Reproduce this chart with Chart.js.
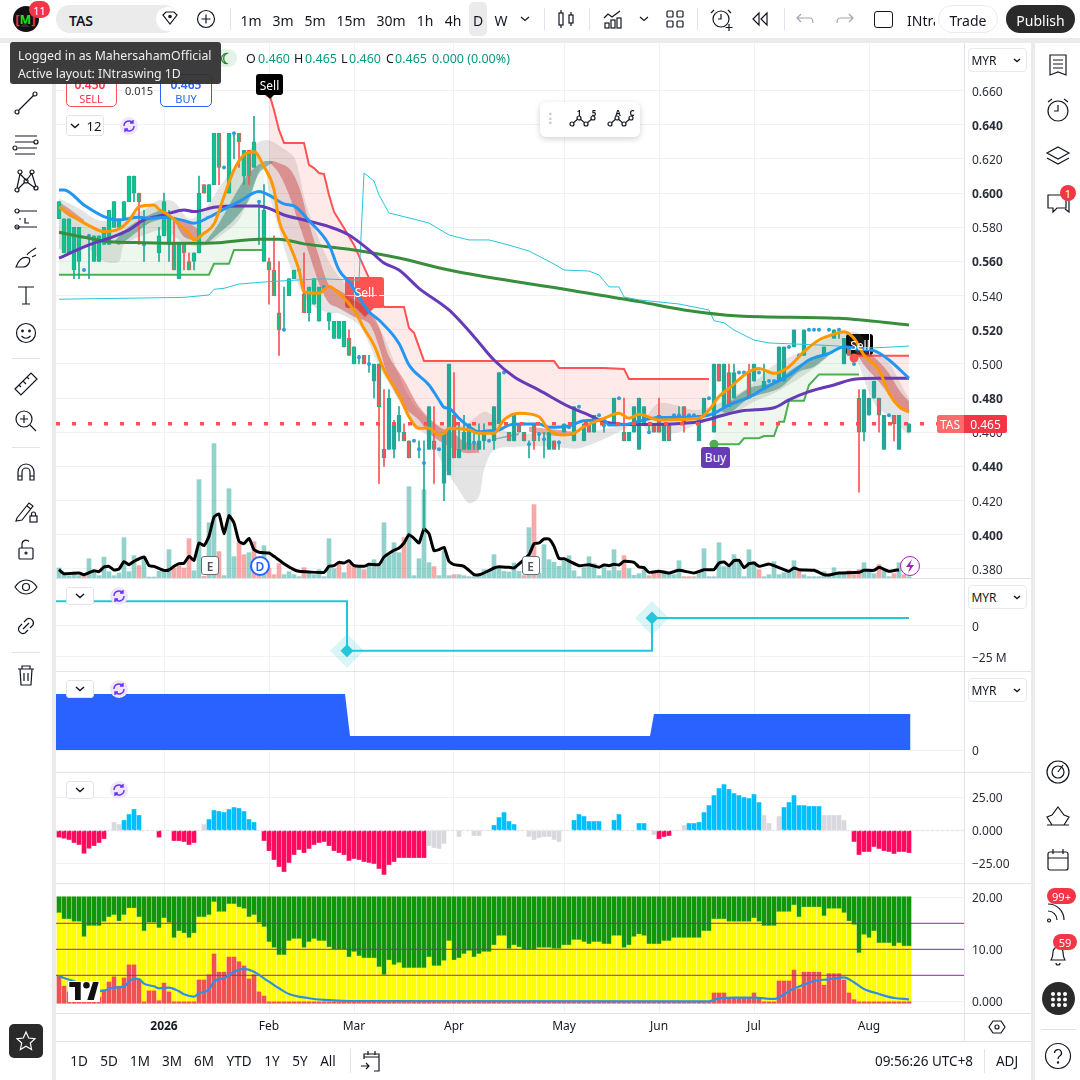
<!DOCTYPE html>
<html>
<head>
<meta charset="utf-8">
<title>TAS</title>
<script src="https://cdn.jsdelivr.net/npm/chart.js@4"></script>
<style>
html,body{margin:0;padding:0;background:#fff;overflow:hidden;}
#app{position:relative;width:1080px;height:1080px;background:#fff;font-family:"Noto Sans",sans-serif;color:#131722;overflow:hidden;}
canvas{position:absolute;left:56px;z-index:2;}
.t{position:absolute;white-space:nowrap;z-index:5;transform:translate(-50%,-50%);font-size:14px;}
.box{position:absolute;box-sizing:border-box;z-index:5;}
.under{z-index:1;}
svg.i{position:absolute;z-index:5;overflow:visible;fill:none;stroke:#131722;stroke-width:1.2;}
</style>
</head>
<body>
<div id="app">
<canvas id="pMain" width="975" height="535" style="top:43px"></canvas>
<canvas id="pStep" width="975" height="92" style="top:579px"></canvas>
<canvas id="pArea" width="975" height="100" style="top:672px"></canvas>
<canvas id="pOsc" width="975" height="110" style="top:773px"></canvas>
<canvas id="pStack" width="975" height="157" style="top:884px"></canvas>
</div>
<script>
// bar numbers of the month lines and their labels
const monthBars = [21, 42, 59, 79, 101, 120, 139, 162];
const monthNames = ['2026', 'Feb', 'Mar', 'Apr', 'May', 'Jun', 'Jul', 'Aug'];
const priceTicks = [0.66, 0.64, 0.62, 0.6, 0.58, 0.56, 0.54, 0.52, 0.5, 0.48, 0.46, 0.44, 0.42, 0.4, 0.38];
const priceBold = [0.64, 0.6, 0.56, 0.52, 0.48, 0.44, 0.4];

const openP = [
.585,.565,.565,.555,.56,.555,.575,.56,.56,.57,
.57,.58,.58,.585,.595,.6,.6,.57,null,null,
.565,.575,.57,.57,.55,.57,.56,.56,.565,.605,
.595,.605,.635,.615,.6,.635,.635,.61,.625,.615,
.595,.56,.56,.555,.53,.52,.54,.55,.555,.541,
.53,.535,.525,.545,.525,.515,.515,.51,.515,.5,
.504,.505,.5,.49,.5,.45,.45,.45,.46,.46,
.455,.455,.45,.442,.45,.455,.45,.43,.435,.47,
.445,.45,.45,.454,.45,.455,.455,.455,.465,.495,
.46,.455,.465,.46,.453,.465,.459,.456,.45,.455,
.454,.46,.463,.455,.475,.455,.465,.46,.47,.464,
null,.465,.48,.46,.455,.46,.45,.465,.46,.465,
.47,.455,.465,.47,.47,.475,.47,.47,.455,.47,
.48,.46,.5,.475,.495,.48,.495,.495,.495,.49,
.495,.485,.49,.49,.49,.49,.51,.51,.505,.505,
.52,.52,.52,.505,.52,.515,.52,.5,.51,.5,
.48,.46,.47,.48,.48,.45,.47,.47,.45,null,.46];
const closeP = [
.595,.585,.585,.58,.58,.555,.575,.575,.575,.58,
.59,.595,.585,.595,.61,.61,.595,.57,null,null,
.575,.595,.585,.555,.57,.565,.555,.565,.6,.6,
.605,.635,.615,.615,.635,.635,.63,.625,.61,.63,
.595,.59,.555,.54,.52,.52,.55,.555,.555,.53,
.545,.55,.545,.545,.53,.525,.525,.525,.505,.51,
.504,.5,.5,.5,.475,.445,.48,.465,.47,.455,
.445,.455,.45,.442,.475,.45,.45,.46,.5,.445,
.45,.46,.465,.454,.455,.46,.455,.475,.495,.495,
.455,.47,.46,.455,.453,.455,.459,.456,.46,.45,
.454,.465,.463,.475,.475,.465,.46,.47,.47,.464,
null,.48,.48,.455,.46,.475,.48,.475,.46,.46,
.46,.465,.455,.47,.47,.465,.47,.47,.47,.48,
.48,.5,.49,.5,.475,.495,.495,.495,.48,.5,
.495,.49,.49,.49,.51,.51,.51,.52,.505,.52,
.52,.52,.52,.51,.52,.52,.52,.515,.505,.5,
.46,.485,.48,.49,.47,.47,.47,.465,.47,null,.465];
const highP = [
.595,.585,.585,.58,.58,.555,.575,.575,.575,.58,
.59,.595,.585,.595,.61,.61,.6,.59,null,null,
.58,.6,.59,.585,.57,.57,.565,.565,.61,.605,
.605,.635,.635,.615,.635,.635,.635,.625,.625,.645,
.595,.605,.562,.575,.56,.545,.55,.555,.555,.565,
.545,.55,.545,.545,.53,.525,.525,.525,.52,.51,
.505,.505,.505,.5,.5,.485,.485,.467,.475,.465,
.455,.455,.455,.455,.475,.475,.45,.46,.5,.495,
.465,.47,.465,.46,.465,.465,.455,.475,.495,.495,
.46,.47,.465,.46,.455,.465,.46,.46,.46,.455,
.455,.465,.463,.475,.475,.465,.465,.47,.47,.465,
null,.48,.48,.48,.46,.475,.48,.475,.465,.465,
.48,.465,.465,.47,.475,.475,.47,.47,.47,.48,
.48,.5,.5,.5,.5,.5,.495,.495,.5,.5,
.495,.5,.49,.49,.51,.51,.51,.52,.505,.52,
.52,.52,.52,.51,.52,.52,.52,.515,.51,.5,
.485,.485,.48,.49,.48,.47,.47,.47,.47,null,.465];
const lowP = [
.585,.565,.565,.55,.55,.555,.55,.56,.56,.57,
.57,.58,.58,.585,.595,.595,.57,.56,null,null,
.56,.575,.56,.555,.55,.555,.555,.555,.565,.6,
.595,.605,.605,.615,.6,.62,.615,.605,.605,.615,
.57,.56,.535,.54,.505,.52,.54,.55,.555,.53,
.525,.535,.525,.545,.52,.515,.515,.51,.505,.5,
.5,.5,.495,.48,.43,.44,.45,.445,.455,.455,
.445,.455,.445,.403,.45,.43,.45,.42,.435,.445,
.445,.45,.45,.45,.45,.45,.455,.45,.465,.495,
.455,.455,.46,.455,.445,.45,.455,.445,.45,.45,
.45,.46,.463,.455,.475,.455,.46,.46,.47,.46,
null,.465,.48,.455,.455,.46,.45,.465,.46,.46,
.46,.455,.455,.47,.47,.46,.47,.47,.455,.47,
.48,.46,.49,.475,.475,.48,.495,.495,.48,.49,
.495,.485,.49,.49,.49,.49,.51,.51,.505,.505,
.52,.52,.52,.505,.52,.515,.515,.5,.505,.5,
.425,.455,.47,.48,.46,.45,.47,.455,.45,null,.46];
const lastPrice = 0.465;

const volumes = [
30,10,7,10,7,5,58,20,7,63,
19,7,15,121,19,67,37,65,3,3,
20,20,85,30,40,30,118,22,295,5,
166,403,79,7,268,64,106,70,76,109,
40,97,30,10,43,10,19,10,4,31,
13,10,25,4,118,28,46,16,43,40,
37,25,40,55,37,166,70,106,76,121,
274,7,58,265,46,34,7,82,7,10,
10,7,4,4,7,25,25,70,30,20,
18,45,20,7,151,220,15,100,55,47,
35,53,67,22,4,31,64,43,7,31,
22,85,22,67,28,8,13,25,7,15,
15,22,13,10,52,4,4,4,17,88,
4,4,106,34,37,70,53,4,85,49,
25,4,10,49,10,16,16,52,22,10,
4,4,4,19,7,31,10,13,22,10,
25,46,22,13,40,25,4,13,46,10,4];
const volumeRed = [5,16,23,24,25,26,29,32,36,37,39,40,42,43,44,49,56,58,59,61,69,75,79,93,95,113,118,119,120,125,126,127,140,148,158,159,160,164,167,169];
const volMaBars = [0,1,4,5,7,8,9,10,11,12,13,14,15,17,18,19,21,22,23,24,25,26,27,28,29,30,31,32,33,34,35,36,37,38,39,40,42,43,45,47,48,50,53,54,55,56,57,58,59,61,62,64,65,67,68,69,70,71,72,73,74,75,76,77,78,79,81,83,84,85,87,88,90,91,94,95,96,97,98,99,100,101,104,106,108,109,110,111,112,113,115,116,117,118,120,122,124,127,129,131,132,133,134,135,136,137,138,139,140,142,143,145,146,147,148,151,153,154,156,160,161,163,164,166,168];
const volMaVals = [25,13,15,10,22,19,33,35,24,27,49,40,50,63,37,35,23,24,35,43,44,65,53,105,97,125,183,192,133,187,165,110,103,119,85,77,75,65,43,25,20,18,17,35,37,47,45,52,37,35,41,40,63,83,90,105,130,119,105,147,133,82,85,92,50,40,35,10,10,15,30,34,32,30,70,103,105,117,117,95,58,58,37,40,32,39,37,41,39,50,47,33,31,17,20,15,23,15,25,25,45,48,37,52,53,31,43,45,35,42,37,25,20,30,25,23,10,9,15,17,23,23,32,20,25];

const orangeBars = [0,2,6,9,12,14,16,19,20,22,24,26,27,29,31,33,35,37,39,41,43,44,46,48,49,52,54,56,59,61,63,65,68,70,72,74,76,77,78,82,84,87,89,92,96,98,101,103,105,109,112,114,116,120,128,130,132,134,138,140,143,146,149,152,155,157,159,161,164,166,168,170];
const orangeVals = [.592,.588,.581,.5775,.579,.584,.592,.593,.5905,.587,.582,.5765,.5726,.5765,.582,.598,.6136,.6224,.6243,.6155,.602,.584,.5706,.555,.5423,.5414,.5453,.5414,.5316,.5208,.511,.4965,.4818,.4691,.4623,.4623,.4584,.4594,.4623,.4613,.4594,.4594,.4672,.4711,.4691,.4613,.4584,.4594,.4633,.4682,.4711,.4682,.4706,.4672,.4682,.473,.4809,.4857,.4955,.4974,.4945,.4984,.5072,.514,.5175,.5189,.515,.5052,.4965,.4828,.475,.472];
const blueBars = [0,1,5,9,12,16,18,21,25,27,30,33,36,40,42,45,47,50,54,56,58,62,64,68,70,74,76,77,78,80,82,84,86,88,90,93,96,98,102,105,109,110,114,116,120,128,131,134,138,141,143,146,150,154,157,160,163,166,170];
const blueVals = [.6019,.6019,.5931,.5863,.5843,.5859,.5853,.5859,.5839,.5824,.5859,.5906,.595,.6009,.5989,.5937,.5925,.5839,.5697,.555,.548,.5306,.5257,.512,.4994,.4877,.4789,.4746,.474,.4682,.4633,.4603,.4609,.4613,.4642,.4648,.4648,.4629,.4637,.4668,.4672,.4642,.4648,.4665,.4686,.4691,.4711,.476,.4805,.4857,.4887,.4935,.5023,.5062,.5101,.5086,.5078,.5023,.4916];
const purpleBars = [0,6,10,14,17,21,25,27,31,36,40,42,45,49,54,58,62,65,68,72,78,83,87,91,96,102,106,109,115,128,133,137,143,146,150,155,159,164,170];
const purpleVals = [.5619,.5697,.5736,.5785,.5843,.5872,.5902,.5892,.5917,.5925,.5925,.5911,.5872,.5843,.5804,.5755,.5667,.5591,.555,.5443,.5316,.516,.5023,.4925,.4847,.475,.4701,.4662,.4645,.4662,.4701,.4727,.4744,.479,.4838,.4877,.491,.4916,.4916];
const slowBars = [0,5,10,17,26,32,40,44,49,58,68,78,102,116,125,136,156,170];
const slowVals = [.5771,.5742,.5716,.571,.5706,.571,.573,.573,.5703,.5671,.562,.555,.5433,.5365,.5316,.5281,.5267,.5228];
const cyanBars = [0,12,25,30,31,33,36,42,48,53,58,60,61,62,63,64,66,70,74,78,82,86,90,94,99,101,106,108,110,112,113,116,124,130,131,133,135,137,139,142,152,163,167,170];
const cyanVals = [.5379,.5384,.539,.5404,.5437,.5443,.5468,.5482,.5492,.5498,.5492,.5492,.6118,.6095,.6071,.5989,.5884,.5855,.5825,.5755,.5726,.5726,.5696,.5661,.5585,.555,.5544,.5521,.5451,.5451,.5392,.5375,.5351,.5316,.5253,.5241,.5199,.5169,.514,.5123,.5111,.5094,.51,.5105];

const stopBars = [42,43,44,45,49,50,51,52,53,54,55,57,59,62,65,69,70,71,73,99,100,109,113,114,130];
const stopVals = [.6587,.6487,.637,.6294,.6294,.6165,.6147,.6118,.6112,.5989,.589,.5796,.5697,.5503,.5334,.5334,.5211,.5182,.5018,.5018,.4977,.4977,.4971,.4912,.4912];
const stop2Bars = [159,170];
const stop2Vals = [.5048,.5048];
const trailBars = [0,30,31,34,35,41];
const trailVals = [.5523,.5523,.5586,.5586,.5667,.5667];
const trail2Bars = [131,136,137,140,141,143,144,145,146,149,150,152,160];
const trail2Vals = [.453,.453,.4565,.4565,.4578,.4578,.4662,.4662,.4785,.4785,.4877,.4939,.4939];

const greyUpBars = [0,4,8,12,17,20,23,26,29,32,36,40,42,45,47,48,49,51,54,56,59,62,65,69,72,76,81,85,87,89,92,103,112,116,120,128,136,140,143,150,155,158,160,162,166,169,170];
const greyUpVals = [.597,.591,.584,.585,.59,.596,.595,.585,.59,.603,.619,.63,.631,.626,.621,.612,.598,.58,.56,.551,.5413,.5296,.516,.4867,.473,.4642,.4642,.472,.4691,.4613,.4594,.4594,.4633,.4642,.477,.473,.4828,.4916,.4994,.5092,.517,.519,.518,.5101,.5004,.4848,.4799];
const greyDnBars = [0,2,5,9,12,13,18,21,25,28,30,32,36,39,41,42,44,46,48,50,54,56,60,62,64,66,69,71,74,77,80,82,84,85,87,92,99,104,110,116,118,123,128,135,139,143,150,155,157,158,160,163,166,170];
const greyDnVals = [.5677,.5648,.5687,.56,.56,.5697,.5765,.5785,.5706,.5687,.5706,.5745,.5843,.6058,.6175,.6,.5785,.559,.5453,.5355,.5297,.5296,.5228,.512,.4984,.4886,.473,.4633,.4574,.4399,.4262,.4184,.4223,.4379,.4496,.4516,.4516,.4506,.4574,.4652,.4604,.4594,.4652,.4711,.4779,.4828,.4955,.5072,.514,.519,.4994,.477,.4691,.4584];

const red0UpBars = [0,2,5];
const red0UpVals = [.595,.591,.5843];
const red0DnBars = [0,2,5];
const red0DnVals = [.591,.5863,.5824];
const red1UpBars = [23,26,28];
const red1UpVals = [.5863,.5824,.5785];
const red1DnBars = [23,25,28];
const red1DnVals = [.5843,.5745,.5716];
const red2UpBars = [42,43,46,48,50,52,54,56,59,62,64,66,69,72,76,79,81,84];
const red2UpVals = [.6185,.6185,.6146,.6038,.5824,.5628,.5463,.5433,.5374,.5316,.5218,.5043,.4906,.475,.4633,.4594,.4545,.4535];
const red2DnBars = [42,44,46,48,50,52,54,56,59,62,64,66,69,72,74,78,81,84];
const red2DnVals = [.6185,.6116,.599,.582,.5648,.5472,.5355,.5326,.5277,.5238,.5101,.4906,.475,.4672,.4594,.4516,.448,.448];
const red3UpBars = [94,99,103];
const red3UpVals = [.4633,.4617,.4603];
const red3DnBars = [94,99,103];
const red3DnVals = [.4603,.458,.458];
const red4UpBars = [158,161,164,166,168,170];
const red4UpVals = [.514,.5086,.5013,.4945,.4848,.478];
const red4DnBars = [158,161,164,166,168,170];
const red4DnVals = [.514,.4994,.4896,.4818,.474,.471];

const teal0UpBars = [11,14,18,21,22];
const teal0UpVals = [.5716,.5804,.5872,.5902,.5872];
const teal0DnBars = [11,12,14,18,21,22];
const teal0DnVals = [.5716,.5697,.5736,.5824,.5853,.5872];
const teal1UpBars = [29,32,35,38,41,43];
const teal1UpVals = [.5706,.5824,.598,.6116,.6185,.6185];
const teal1DnBars = [29,30,32,35,38,40,43];
const teal1DnVals = [.5706,.5716,.5765,.5843,.596,.6116,.6185];
const teal2UpBars = [87,92];
const teal2UpVals = [.4564,.4598];
const teal2DnBars = [87,92];
const teal2DnVals = [.4555,.4584];
const teal3UpBars = [132,138,143,148,154];
const teal3UpVals = [.4731,.4857,.4896,.4994,.5062];
const teal3DnBars = [132,134,138,144,148,151,154];
const teal3DnVals = [.4731,.4711,.4799,.4857,.4955,.4984,.5052];

const sellDotBars = [42,159];
const sellDotVals = [.6587,.5035];
const buyDotBars = [131];
const buyDotVals = [.453];

// second pane, cash line
const stepBars = [-0.6,57.6,57.6,118.6,118.6,170];
const stepVals = [20,20,-20,-20,6.5,6.5];
const stepDotBars = [57.6,118.6];
const stepDotVals = [-20,6.5];
// third pane, blue area
const areaBars = [-0.6,57.2,58.2,118.2,119,170.3];
const areaVals = [56,56,14,14,36,36];

const oscVals = [
-5,-5.8,-6.8,-9.1,-10.6,-17.2,-13.4,-11.4,-9.1,-6.1,
0,6.1,4.5,7.6,12.1,15.9,11.4,0,0,0,
-5,0,0,-7.6,-7.6,-8.3,-10.6,-9.1,0,4.5,
8.3,15.2,14.4,13.6,15.9,17.4,16.7,14.4,8.3,6.1,
0,-7.6,-15.2,-22,-27.3,-31.1,-24.2,-18.2,-14.4,-16.7,
-13.6,-10.6,-9.1,-8.3,-11.4,-15.2,-16.7,-18.2,-22.7,-21.2,
-22,-23.5,-24.2,-25,-28.8,-33.3,-25.8,-23.5,-20.5,-20.5,
-20.5,-20.5,-20.5,-20.5,-11.4,-12.9,-13.6,-9.8,0,0,
-4.5,0,0,-3.8,-3.8,0,0,3.8,9.8,13.6,
6.8,4.5,0,0,-4.5,-6.8,-5.3,-4.5,-4.5,-6.8,
-8.3,0,0,7.6,12.1,10.6,6.8,6.8,6.8,0,
0,7.6,12.1,0,0,0,5.3,5.3,0,-3,
-6.1,-4.5,-3.8,0,0,3.8,5.3,5.3,6.1,13.6,
18.9,26.5,31.8,34.8,31.1,28,26.5,25,24.2,27.3,
21.2,11.4,5.3,0,10.6,17.4,21.2,26.5,18.9,18.9,
18.2,18.2,18.2,11.4,11.4,11.4,11.4,7.6,0,-8.3,
-18.2,-15.9,-15.9,-12.1,-13.6,-15.2,-15.9,-17.4,-15.9,-15.9,-16.7];
const oscGrey = [11,12,29,74,75,76,77,80,83,84,94,95,96,97,98,99,100,119,125,141,142,144,153,154,155,156,157];

const topValue = 20.1;
const baseValue = -0.38;
const yellowTop = [
17,15.8,15.8,15.3,15.3,12.4,14.5,14.5,14.5,15.3,
16.2,16.6,15.4,16.6,17.9,17.9,16.2,13.5,15.1,15.1,
14.1,16,15.1,12.2,13.5,13.1,12.2,13.1,16.2,16.2,
16.6,19.1,17.2,17.2,18.7,18.7,18.1,17.8,16.2,16.6,
15.1,14.3,11.4,10.3,8.9,8.9,11.6,12,12,10.3,
11.4,12,11.6,11.6,10.4,10,10,10,8.5,9.5,
8.7,8.3,8.3,8.3,6.6,5.1,7.9,7,7.4,6.4,
6.4,6.4,6.4,6.4,8.5,6.8,6.8,7.8,11.6,7.9,
8.3,9.1,9.7,8.5,9.1,9.5,9.5,10.8,12.6,12.6,
10.1,10.8,10.4,9.9,9.9,9.9,10.3,10.3,10.3,10.1,
10.1,10.8,10.8,11.8,11.8,11.4,11,11.4,11.4,11,
11,12.6,12.6,10.3,10.8,12.4,12.9,12.6,11,11,
11,11.6,11.6,12.2,12.2,12.2,12.2,12.2,12.2,13.5,
13.5,15.8,15.8,15.8,15.3,15.3,15.3,15.3,15.3,16,
15.3,14.5,14.5,14.5,17.2,17.2,17.2,18.5,16.2,18.1,
18.1,18.1,18.1,16.4,17.8,17.8,17.8,17,15.4,14.7,
9.3,12.8,12.2,13.5,11.2,11.2,11.2,10.6,11.2,10.6,10.6];
const redTop = [
4.9,2.9,1.8,.1,.1,.1,.1,.1,.8,2.2,
3.7,4.7,2.9,4.5,7,7,4.1,-.1,2,2,
.1,3.5,1.8,-.1,-.1,-.1,-.1,-.1,4.1,4.1,
5.1,9.1,5.6,5.6,8.5,8.5,7.6,6.8,4.3,5.1,
1.8,1,-.1,-.1,-.1,-.1,-.1,-.1,-.1,-.1,
-.1,-.1,-.1,-.1,-.1,-.1,-.1,-.1,-.1,-.1,
-.1,-.1,-.1,-.1,-.1,-.1,-.1,-.1,-.1,-.1,
-.1,-.1,-.1,-.1,-.1,-.1,-.1,-.1,-.1,-.1,
-.1,-.1,-.1,-.1,-.1,-.1,-.1,-.1,-.1,-.1,
-.1,-.1,-.1,-.1,-.1,-.1,-.1,-.1,-.1,-.1,
-.1,-.1,-.1,-.1,-.1,-.1,-.1,-.1,-.1,-.1,
-.1,-.1,-.1,-.1,-.1,-.1,-.1,-.1,-.1,-.1,
-.1,-.1,-.1,-.1,-.1,-.1,-.1,-.1,-.1,-.1,
-.1,1.6,1.6,1.6,.6,.6,.6,.6,.6,1.6,
.6,-.1,-.1,-.1,3.9,3.9,3.9,6,2.4,5.6,
5.6,5.6,5.6,3.1,5.3,5.3,5.3,4.1,1.6,.3,
-.1,-.1,-.1,-.1,-.1,-.1,-.1,-.1,-.1,-.1,-.1];
const mfiBars = [0,1,3,5,7,8,9,11,13,14,15,16,17,19,20,22,24,25,27,28,30,31,33,35,37,39,41,44,46,50,53,58,130,132,135,139,143,145,147,148,151,154,157,159,161,164,167,170];
const mfiVals = [4.87,4.49,3.85,3.14,2.31,1.99,2.05,2.63,2.82,3.78,4.36,4.29,3.4,2.88,2.5,2.63,1.92,1.35,.9,1.54,2.24,3.85,4.42,5.7,6.22,5.7,4.42,2.5,1.41,.58,.26,.06,0,.58,.7,.7,.45,1.35,2.5,2.82,3.91,4.23,4.62,3.65,2.37,1.41,.64,.38];
const levelVals = [5,10,15];

const xMin = -0.6, xMax = 181;
const bars = openP.map((_, i) => i);
const FONT = '"Noto Sans", sans-serif';
const GRID = '#f0f2f5';

Chart.defaults.font.family = FONT;

function pts(xs, ys) { return xs.map((x, i) => ({x: x, y: ys[i]})); }

// later pushed datasets are drawn on top
function push(list, ds) {
  ds.order = 500 - list.length;
  list.push(ds);
  return list.length - 1;
}
function line(list, xs, ys, color, width, extra) {
  return push(list, Object.assign({type: 'line', data: pts(xs, ys), borderColor: color, borderWidth: width,
    pointRadius: 0, tension: 0, fill: false}, extra || {}));
}
function ribbon(list, upX, upY, dnX, dnY, color) {
  const low = line(list, dnX, dnY, 'rgba(0,0,0,0)', 0, {tension: 0.3});
  line(list, upX, upY, 'rgba(0,0,0,0)', 0, {tension: 0.3, fill: {target: low, above: color, below: color}});
}
function barSet(list, data, color, thick, extra) {
  return push(list, Object.assign({type: 'bar', data: data, backgroundColor: color, barThickness: thick,
    grouped: false, borderSkipped: false}, extra || {}));
}

function pane(id, datasets, yMin, yMax, yTicks, fmt, bold, timeAxis, extraScales) {
  const scales = {
    x: {type: 'linear', min: xMin, max: xMax, offset: false,
      grid: {color: GRID, drawTicks: false, offset: false},
      border: {display: false},
      ticks: timeAxis ? {
        autoSkip: false, maxRotation: 0, padding: 6, color: '#131722',
        font: c => ({family: FONT, size: 12, weight: c.tick && c.tick.value === monthBars[0] ? '700' : '400'}),
        callback: v => monthNames[monthBars.indexOf(v)]
      } : {display: false},
      afterBuildTicks: s => { s.ticks = monthBars.map(v => ({value: v})); },
      afterFit: s => { s.height = timeAxis ? 28 : 0; s.paddingLeft = 0; s.paddingRight = 0; }
    },
    y: {position: 'right', min: yMin, max: yMax,
      grid: {color: GRID, drawTicks: false},
      border: {display: false},
      ticks: {autoSkip: false, padding: 8, labelOffset: 1.5, color: '#2a2e39', callback: fmt,
        font: c => ({family: FONT, size: 12, weight: bold && c.tick && bold.includes(c.tick.value) ? '700' : '400'})},
      afterBuildTicks: s => { s.ticks = yTicks.map(v => ({value: v})); },
      afterFit: s => { s.width = 67; s.paddingTop = 0; s.paddingBottom = 0; }
    }
  };
  Object.assign(scales, extraScales || {});
  return new Chart(document.getElementById(id), {
    type: 'bar',
    data: {datasets: datasets},
    options: {responsive: false, animation: false, events: [],
      layout: {padding: 0, autoPadding: false},
      plugins: {legend: {display: false}, tooltip: {enabled: false}},
      scales: scales}
  });
}

// ---------- main price pane
const main = [];
const volData = bars.map(i => ({x: i, y: volumes[i]}));
barSet(main, volData, bars.map(i => volumeRed.includes(i) ? 'rgba(239,83,80,.5)' : 'rgba(38,166,154,.5)'), 4, {yAxisID: 'yv'});
line(main, volMaBars, volMaVals, '#000', 3, {yAxisID: 'yv', tension: 0.15});

const greyLow = line(main, greyDnBars, greyDnVals, 'rgba(0,0,0,0)', 0, {tension: 0.3});
line(main, greyUpBars, greyUpVals, 'rgba(0,0,0,0)', 0, {tension: 0.3,
  fill: {target: greyLow, above: 'rgba(120,120,120,.2)', below: 'rgba(120,120,120,.2)'}});
const orangeBase = line(main, orangeBars, orangeVals, 'rgba(0,0,0,0)', 0, {cubicInterpolationMode: 'monotone'});
const pink = 'rgba(255,82,82,.12)', mint = 'rgba(76,175,80,.1)';
line(main, stopBars, stopVals, '#ff5252', 2, {fill: {target: orangeBase, above: pink, below: 'rgba(0,0,0,0)'}});
line(main, stop2Bars, stop2Vals, '#ff5252', 2, {fill: {target: orangeBase, above: pink, below: 'rgba(0,0,0,0)'}});
line(main, trailBars, trailVals, '#4caf50', 2, {fill: {target: orangeBase, above: 'rgba(0,0,0,0)', below: mint}});
line(main, trail2Bars, trail2Vals, '#4caf50', 2, {fill: {target: orangeBase, above: 'rgba(0,0,0,0)', below: mint}});
const redBand = 'rgba(200,50,50,.42)', tealBand = 'rgba(30,120,105,.45)';
ribbon(main, red0UpBars, red0UpVals, red0DnBars, red0DnVals, redBand);
ribbon(main, red1UpBars, red1UpVals, red1DnBars, red1DnVals, redBand);
ribbon(main, red2UpBars, red2UpVals, red2DnBars, red2DnVals, redBand);
ribbon(main, red3UpBars, red3UpVals, red3DnBars, red3DnVals, redBand);
ribbon(main, red4UpBars, red4UpVals, red4DnBars, red4DnVals, redBand);
ribbon(main, teal0UpBars, teal0UpVals, teal0DnBars, teal0DnVals, tealBand);
ribbon(main, teal1UpBars, teal1UpVals, teal1DnBars, teal1DnVals, tealBand);
ribbon(main, teal2UpBars, teal2UpVals, teal2DnBars, teal2DnVals, tealBand);
ribbon(main, teal3UpBars, teal3UpVals, teal3DnBars, teal3DnVals, tealBand);

// candles: wicks, then bodies, early bars are brighter in the picture
const live = bars.filter(i => openP[i] !== null);
const isDown = i => closeP[i] < openP[i];
barSet(main, live.map(i => ({x: i, y: [lowP[i], highP[i]]})), live.map(i => isDown(i) ? '#ff5252' : '#22ab94'), 1);
barSet(main, live.map(i => ({x: i, y: [Math.min(openP[i], closeP[i]), Math.max(openP[i], closeP[i])]})),
  live.map(i => i < 60 ? '#0fc48c' : (isDown(i) ? '#ff5252' : '#26a69a')), 4,
  {borderWidth: 1, borderColor: live.map(i => (i < 60 && isDown(i)) ? '#ff5252' : '#22ab94')});
const doji = live.filter(i => openP[i] === closeP[i]);
line(main, doji, doji.map(i => closeP[i]), '#2a9fd8', 0, {showLine: false, pointRadius: 2, pointBackgroundColor: '#2a9fd8', pointBorderWidth: 0});

line(main, cyanBars, cyanVals, '#26c6da', 1);
line(main, slowBars, slowVals, '#388e3c', 3, {cubicInterpolationMode: 'monotone'});
line(main, purpleBars, purpleVals, '#673ab7', 3, {cubicInterpolationMode: 'monotone'});
line(main, blueBars, blueVals, '#2196f3', 3, {cubicInterpolationMode: 'monotone'});
line(main, orangeBars, orangeVals, '#ff9800', 3, {cubicInterpolationMode: 'monotone'});
line(main, [xMin, xMax], [lastPrice, lastPrice], '#ff5252', 3.5, {borderDash: [4, 12]});
line(main, sellDotBars, sellDotVals, '#ff5252', 0, {showLine: false, pointRadius: 4.5, pointBackgroundColor: '#ff5252', pointBorderWidth: 0});
line(main, buyDotBars, buyDotVals, '#4caf50', 0, {showLine: false, pointRadius: 4.5, pointBackgroundColor: '#4caf50', pointBorderWidth: 0});

pane('pMain', main, 0.3747, 0.6879, priceTicks, v => v.toFixed(3), priceBold, false,
  {yv: {display: false, min: 0, max: 1605}});

// ---------- step pane
const step = [];
line(step, stepDotBars, stepDotVals, 'rgba(0,0,0,0)', 0, {showLine: false, pointStyle: 'rectRot', pointRadius: 17, pointBackgroundColor: 'rgba(38,198,218,.18)', pointBorderWidth: 0});
line(step, stepBars, stepVals, '#26c6da', 2);
line(step, stepDotBars, stepDotVals, 'rgba(0,0,0,0)', 0, {showLine: false, pointStyle: 'rectRot', pointRadius: 6.5, pointBackgroundColor: '#26c6da', pointBorderWidth: 0});
pane('pStep', step, -36.3, 37.9, [0, -25], v => v === 0 ? '0' : '\u221225 M', null, false);

// ---------- area pane
const area = [];
line(area, areaBars, areaVals, '#2962ff', 0, {fill: {target: 'origin', above: '#2962ff', below: '#2962ff'}});
pane('pArea', area, -22, 78, [0], () => '0', null, false);

// ---------- oscillator pane
const osc = [];
barSet(osc, bars.map(i => ({x: i, y: oscVals[i]})),
  bars.map(i => oscVals[i] === 0 ? 'rgba(0,0,0,0)' : (oscGrey.includes(i) ? '#d8d8de' : (oscVals[i] > 0 ? '#00bfff' : '#ff0a5f'))), 4);
line(osc, [xMin, xMax], [0, 0], '#e6e7ec', 1.5, {borderDash: [3, 2]});
pane('pOsc', osc, -39.8, 43.6, [25, 0, -25], v => v === 0 ? '0.000' : (v > 0 ? '25.00' : '\u221225.00'), null, false);

// ---------- stacked money flow pane
const stack = [];
barSet(stack, bars.map(i => ({x: i, y: [yellowTop[i], topValue]})), '#14960c', 4);
barSet(stack, bars.map(i => ({x: i, y: [redTop[i], yellowTop[i]]})), '#ffff00', 4);
barSet(stack, bars.map(i => ({x: i, y: [baseValue, redTop[i]]})), '#f05252', 4);
levelVals.forEach(v => line(stack, [xMin, xMax], [v, v], '#8e24aa', 1));
line(stack, mfiBars, mfiVals, '#2f8fe6', 2.2, {cubicInterpolationMode: 'monotone'});
pane('pStack', stack, -2.25, 22.56, [20, 10, 0], v => v === 0 ? '0.000' : v.toFixed(2), null, true);

// ---------- screen furniture around the charts
const app = document.getElementById('app');
function text(x, y, s, css) {
  const d = document.createElement('div');
  d.className = 't';
  d.textContent = s;
  d.style.cssText = 'left:' + x + 'px;top:' + y + 'px;' + (css || '');
  app.appendChild(d);
  return d;
}
function box(x, y, w, h, css, cls) {
  const d = document.createElement('div');
  d.className = 'box ' + (cls || '');
  d.style.cssText = 'left:' + x + 'px;top:' + y + 'px;width:' + w + 'px;height:' + h + 'px;' + (css || '');
  app.appendChild(d);
  return d;
}
function icon(x, y, inner, css) {
  const s = document.createElementNS('http://www.w3.org/2000/svg', 'svg');
  s.setAttribute('class', 'i');
  s.setAttribute('width', 28);
  s.setAttribute('height', 28);
  s.setAttribute('viewBox', '0 0 28 28');
  s.style.cssText = 'left:' + (x - 14) + 'px;top:' + (y - 14) + 'px;' + (css || '');
  s.innerHTML = inner;
  app.appendChild(s);
}
// small pointer under a signal tag
function pointer(x, y, size, color, cls) {
  box(x - size, y, 0, 0, 'border-left:' + size + 'px solid transparent;border-right:' + size + 'px solid transparent;border-top:' + size + 'px solid ' + color + ';box-sizing:content-box', cls);
}

// bands and separators
box(0, 0, 1080, 38, 'background:#fff');
box(0, 38, 1080, 5, 'background:#ebebeb');
box(0, 38, 52, 1042, 'background:#fff;z-index:3');
box(52, 38, 4, 1042, 'background:#ebebeb');
box(1031, 38, 4, 1042, 'background:#ebebeb');
box(1035, 43, 45, 1037, 'background:#fff');
box(964, 43, 1, 998, 'background:#e0e3eb');
[578, 671, 772, 883, 1013, 1041].forEach(y => box(56, y, 975, 1, 'background:#e0e3eb'));

// top bar
box(13, 6, 26, 26, 'background:#111;border-radius:50%');
text(25.5, 19, 'M', 'color:#19e619;font-size:12px;font-weight:700');
text(17.5, 19, '[', 'color:#f23645;font-size:13px;font-weight:700');
text(33.5, 19, ']', 'color:#f23645;font-size:13px;font-weight:700');
box(29, 1, 21, 17, 'background:#f23645;border-radius:9px');
text(39.5, 9.5, '11', 'color:#fff;font-size:11px');
box(56, 5, 122, 28, 'background:#ebebeb;border-radius:14px');
text(81, 19.5, 'TAS', 'font-weight:600;font-size:14px');
box(156, 7, 24, 24, 'background:#fff;border-radius:50%');
icon(170, 19, '<path d="M7 10l3-3h8l3 3-7 9z"/><circle cx="14" cy="11.5" r="1.2" fill="#131722"/>');
icon(206, 19, '<circle cx="14" cy="14" r="8.5"/><path d="M14 9.5v9M9.5 14h9"/>');
box(230, 8, 1, 22, 'background:#e0e3eb');
[['1m',251],['3m',283],['5m',315],['15m',351],['30m',391],['1h',425],['4h',453]].forEach(a => text(a[1], 19.5, a[0], 'font-size:14px'));
box(469, 2, 18, 34, 'background:#ebebeb;border-radius:5px');
text(478, 19.5, 'D');
text(501, 19.5, 'W');
icon(525, 19, '<path d="M10 12l4 3.5 4-3.5"/>');
box(544, 8, 1, 22, 'background:#e0e3eb');
icon(567, 19, '<rect x="6" y="8" width="4" height="12"/><rect x="16" y="10" width="4" height="8"/><path d="M8 5v3M8 20v3M18 7v3M18 18v3"/>');
box(589, 8, 1, 22, 'background:#e0e3eb');
icon(613, 19, '<path d="M5 13l4-4 4 3 8-6"/><rect x="6" y="18" width="4" height="5"/><rect x="12" y="15" width="4" height="8"/><rect x="18" y="13" width="4" height="10"/>');
icon(644, 19, '<path d="M10 12l4 3.5 4-3.5"/>');
icon(675, 19, '<rect x="6" y="6" width="6" height="6" rx="1"/><rect x="16" y="6" width="6" height="6" rx="1"/><rect x="6" y="16" width="6" height="6" rx="1"/><rect x="16" y="16" width="6" height="6" rx="1"/>');
box(697, 8, 1, 22, 'background:#e0e3eb');
icon(722, 19, '<circle cx="13" cy="14" r="8"/><path d="M13 9v5h-3M6 5l-3 3M20 5l3 3M21 19v7M17.5 22.5h7"/>');
icon(760, 19, '<path d="M13 8l-6 6 6 6zM21 8l-6 6 6 6z"/>');
box(784, 8, 1, 22, 'background:#e0e3eb');
icon(806, 19, '<path d="M9 9l-4 4 4 4M5 13h13c2 0 3 2 3 5"/>', 'stroke:#a3a6af');
icon(844, 19, '<path d="M19 9l4 4-4 4M23 13H10c-2 0-3 2-3 5"/>', 'stroke:#a3a6af');
box(874, 11, 19, 17, 'border:1.4px solid #131722;border-radius:3px;background:#fff');
text(921, 19.5, 'INtra', 'font-size:14px;width:28px;overflow:hidden');
box(938, 5, 60, 28, 'border:1px solid #ebebeb;border-radius:14px;background:#fff');
text(968, 19.5, 'Trade');
box(1006, 5, 69, 28, 'background:#2a2a2a;border-radius:14px');
text(1040.5, 19.5, 'Publish', 'color:#fff');

// legend of the main pane, left aligned pieces
[['O',246,'#131722'],['0.460',258,'#089981'],['H',294,'#131722'],['0.465',305,'#089981'],['L',341,'#131722'],['0.460',349,'#089981'],['C',386,'#131722'],['0.465',395,'#089981'],['0.000 (0.00%)',432,'#089981']].forEach(a => {
  text(a[1], 58, a[0], 'color:' + a[2] + ';font-size:12.5px;transform:translate(0,-50%)');
});
box(215, 49, 22, 18, 'background:#e3f3e6;border-radius:9px');
text(226, 57.5, '\u263e', 'color:#2e7d32;font-size:15px;font-weight:700');
box(66, 74, 51, 33, 'border:1px solid #f7525f;border-radius:5px;background:#fff');
text(90, 84, '0.450', 'color:#f23645;font-size:12px;font-weight:600');
text(91, 98, 'SELL', 'color:#f23645;font-size:11px');
text(139, 90, '0.015', 'font-size:11px;color:#333');
box(160, 74, 52, 33, 'border:1px solid #2962ff;border-radius:5px;background:#fff');
text(186, 84, '0.465', 'color:#2962ff;font-size:12px;font-weight:600');
text(186, 98, 'BUY', 'color:#2962ff;font-size:11px');
box(10, 42, 211, 42, 'background:rgba(50,50,50,.95);border-radius:3px;z-index:7');
text(18, 54.5, 'Logged in as MahersahamOfficial', 'color:#eee;font-size:12.3px;z-index:8;transform:translate(0,-50%)');
text(18, 72.5, 'Active layout: INtraswing 1D', 'color:#eee;font-size:12.3px;z-index:8;transform:translate(0,-50%)');
icon(25, 38, '<path d="M9 3l5-4 5 4z" fill="rgba(50,50,50,.95)" stroke="none"/>', 'z-index:7');

// pane controls
box(66, 115, 38, 21, 'border:1px solid #e0e3eb;border-radius:3px;background:#fff');
icon(75, 126, '<path d="M10 12l4 3.5 4-3.5" stroke-width="1.5"/>');
text(94, 126, '12', 'font-size:13px');
[[129, 126], [119, 596], [119, 689], [119, 790]].forEach(p => {
  box(p[0] - 9, p[1] - 9, 18, 18, 'background:#ede7f9;border-radius:50%');
  icon(p[0], p[1], '<path d="M9 14a5 5 0 0 1 9-3M19 14a5 5 0 0 1-9 3M18 8v3h-3M10 20v-3h3" stroke="#6a35ff" stroke-width="1.4"/>');
});
[596, 689, 790].forEach(y => {
  box(66, y - 9, 28, 18, 'border:1px solid #e0e3eb;border-radius:3px;background:#fff');
  icon(80, y, '<path d="M10 12l4 3.5 4-3.5" stroke-width="1.5"/>');
});
[[48, 60], [585, 596.5], [678, 689.5]].forEach(a => {
  box(968, a[0], 59, 24, 'border:1px solid #e8eaf0;border-radius:4px;background:#fff');
  text(984, a[1], 'MYR', 'font-size:12px');
  icon(1017, a[1], '<path d="M11 13l3 2.5 3-2.5" stroke-width="1.4"/>');
});

// wave tool palette
box(540, 102, 100, 35, 'background:#fff;border-radius:6px;box-shadow:0 2px 6px rgba(0,0,0,.18)');
text(552, 119, '\u2807', 'color:#c5c8ce;font-size:15px');
const wave = '<path d="M-1 14l7-6 7 6 7-6" /><circle cx="-1" cy="14" r="2" fill="#fff"/><circle cx="6" cy="8" r="2" fill="#fff"/><circle cx="13" cy="14" r="2" fill="#fff"/><circle cx="20" cy="8" r="2" fill="#fff"/>';
icon(587, 123.5, wave);
icon(625, 123.5, wave);
text(579, 112, '1', 'font-size:8px;font-weight:700');
text(594, 112, '5', 'font-size:8px;font-weight:700');
text(618, 112, 'A', 'font-size:8px;font-weight:700');
text(632, 112, 'C', 'font-size:8px;font-weight:700');

// signal tags
box(256, 74, 27, 21, 'background:#000;border-radius:3px;z-index:4');
pointer(269.5, 95, 4, '#000', '');
text(269.5, 84.5, 'Sell', 'color:#fff;font-size:12px');
box(345, 277, 39, 31, 'background:#ff5252;border-radius:3px', 'under');
pointer(364.5, 308, 9, '#ff5252', 'under');
text(364.5, 292, 'Sell', 'color:#fff;font-size:12px;z-index:3');
box(846, 334, 27, 21, 'background:#000;border-radius:3px', 'under');
text(860, 344.5, 'Sell', 'color:#fff;font-size:12px;z-index:3');
box(701, 447, 29, 21, 'background:#673ab7;border-radius:3px;z-index:4');
text(715.5, 457, 'Buy', 'color:#fff;font-size:12px');

// last price tag
box(937, 415, 27, 18, 'background:#ff6b6b;border-radius:2px 0 0 2px');
text(950, 424, 'TAS', 'color:#fff;font-size:12px');
box(964, 415, 43, 18, 'background:#f23645;border-radius:0 2px 2px 0');
text(985.5, 424, '0.465', 'color:#fff;font-size:12px');

// event badges
[[210, 566], [530.5, 566]].forEach(p => {
  box(p[0] - 9, p[1] - 10, 18, 19, 'border:1.4px solid #6a6d78;border-radius:3px;background:#fff');
  text(p[0], p[1] - 0.5, 'E', 'font-size:12px;font-weight:600;color:#50535e');
});
box(250, 556, 20, 20, 'border:2px solid #2962ff;border-radius:50%;background:#fff');
text(260, 566, 'D', 'font-size:12px;font-weight:600;color:#2962ff');
box(900, 556, 20, 20, 'border:1.5px solid #9c27b0;border-radius:50%;background:#fff');
icon(910, 566, '<path d="M16 7l-6 8h4l-2 6 6-8h-4z" fill="#9c27b0" stroke="none"/>');

// chart library logo mark
box(68, 981, 32, 21, 'background:#fff');
const logo = document.createElementNS('http://www.w3.org/2000/svg', 'svg');
logo.setAttribute('class', 'i');
logo.setAttribute('width', 30);
logo.setAttribute('height', 18);
logo.setAttribute('viewBox', '0 0 36 22');
logo.style.cssText = 'left:69px;top:982px;stroke:none;fill:#111;z-index:6';
logo.innerHTML = '<path d="M14 0H0v6h7v16h7zM30 22h-8L29 0h7zM21 8a4 4 0 1 0 0-8 4 4 0 0 0 0 8z"/>';
app.appendChild(logo);

// left tool rail
icon(26, 103, '<circle cx="5" cy="23" r="2"/><circle cx="23" cy="5" r="2"/><path d="M6.5 21.5L21.5 6.5"/>');
icon(26, 143, '<path d="M3 7h22M3 13h19M6 19h19M3 25h20"/><circle cx="24" cy="13" r="2"/><circle cx="3" cy="19" r="2"/>');
icon(26, 181, '<circle cx="5" cy="23" r="2"/><circle cx="8" cy="5" r="2"/><circle cx="14" cy="14" r="2"/><circle cx="20" cy="5" r="2"/><circle cx="24" cy="21" r="2"/><path d="M5 21L8 7M8 7l6 6M14 14l6-8M20 7l4 13M6 22l7-7M15 15l8 6"/>');
icon(26, 219, '<path d="M7 6h18M7 14h2M4 22h21"/><circle cx="5" cy="6" r="2"/><circle cx="5" cy="22" r="2"/><path d="M13 13v5h4"/>');
icon(26, 258, '<path d="M4 23c3-8 7-11 13-9 2 3-1 9-6 9z"/><path d="M15 11c2-3 6-5 9-7M20 13l4-2"/>');
icon(26, 295, '<path d="M6 6h16M14 6v17M10 23h8"/>');
icon(26, 333, '<circle cx="14" cy="14" r="9.5"/><circle cx="10.5" cy="12" r="0.8" fill="#131722"/><circle cx="17.5" cy="12" r="0.8" fill="#131722"/><path d="M9.5 17c2.5 3 6.5 3 9 0"/>');
box(12, 358, 28, 1, 'background:#e0e3eb');
icon(26, 384, '<path d="M3 19L19 3l6 6L9 25zM7 15l2 2M11 11l3 3M15 7l2 2"/>');
icon(26, 421, '<circle cx="12" cy="12" r="8"/><path d="M18 18l6 6M12 8v8M8 12h8"/>');
box(12, 447, 28, 1, 'background:#e0e3eb');
icon(26, 472, '<path d="M6 14a8 8 0 0 1 16 0v8h-4v-8a4 4 0 0 0-8 0v8H6zM6 18h4M18 18h4"/>');
icon(26, 511, '<path d="M5 21L17 6l4 3L10 23l-6 1zM15 9l4 3"/><rect x="18" y="19" width="7" height="6"/><path d="M19.5 19v-2a2 2 0 0 1 4 0v2"/>');
icon(26, 549, '<rect x="7" y="13" width="14" height="11" rx="1"/><path d="M10 13V9a4 4 0 0 1 7-2.5"/><circle cx="14" cy="18" r="1"/>');
icon(26, 587, '<path d="M3 14c4-6 8-7 11-7s7 1 11 7c-4 6-8 7-11 7s-7-1-11-7z"/><circle cx="14" cy="14" r="3.5"/>');
icon(26, 626, '<path d="M12 10l3-3a4.5 4.5 0 0 1 6 6l-3 3M16 18l-3 3a4.5 4.5 0 0 1-6-6l3-3M11 17l6-6"/>');
box(12, 652, 28, 1, 'background:#e0e3eb');
icon(26, 675, '<path d="M6 8h16M10 8V5h8v3M8 8l1 16h10l1-16M12 12v8M16 12v8"/>');
box(9, 1024, 34, 34, 'background:#2a2a2a;border-radius:5px;z-index:6');
icon(26, 1041, '<path d="M14 5l2.7 6 6.3.7-4.7 4.3 1.3 6.5L14 19.3 8.4 22.5 9.7 16 5 11.7l6.3-.7z" stroke="#fff"/>', 'z-index:7');

// right tool rail
icon(1058, 65, '<path d="M6 4h16v20l-8-3-8 3z"/><path d="M9 9h10M9 13h10M9 17h10"/>');
icon(1058, 110, '<circle cx="14" cy="15" r="10"/><path d="M14 9v6h-4M4 6l4-3M24 6l-4-3"/>');
icon(1058, 157, '<path d="M14 4l11 6-11 6-11-6zM3 15l11 6 11-6"/>');
icon(1058, 203, '<path d="M4 6h18v13h-9l-4 4v-4H4zM22 10h3v13l-4-3"/>');
box(1060, 185, 16, 16, 'background:#f23645;border-radius:50%');
text(1068, 193, '1', 'color:#fff;font-size:11px');
icon(1058, 772, '<circle cx="14" cy="14" r="11"/><circle cx="14" cy="14" r="6"/><path d="M14 14l5-7"/>');
icon(1058, 816, '<path d="M14 5l6 8 5 2-5 8H8l-5-8 5-2zM3 23h22"/>');
icon(1058, 860, '<rect x="4" y="6" width="20" height="18" rx="2"/><path d="M4 12h20M9 3v5M19 3v5"/>');
icon(1058, 910, '<path d="M5 23a1.5 1.5 0 1 0 0.1 0M4 15c5 0 9 4 9 9M4 8c9 0 16 7 16 16"/>');
box(1047, 888, 29, 16, 'background:#f23645;border-radius:8px');
text(1061.5, 896, '99+', 'color:#fff;font-size:11px');
icon(1058, 954, '<path d="M7 20c1-2 2-3 2-8a5 5 0 0 1 10 0c0 5 1 6 2 8zM12 23a2 2 0 0 0 4 0M14 5V3"/>');
box(1053, 934, 24, 16, 'background:#f23645;border-radius:8px');
text(1065, 942, '59', 'color:#fff;font-size:11px');
box(1042, 982, 33, 33, 'background:#2a2a2a;border-radius:50%');
icon(1058.5, 998.5, '<g fill="#fff" stroke="none"><circle cx="8" cy="9" r="2"/><circle cx="14" cy="9" r="2"/><circle cx="20" cy="9" r="2"/><circle cx="8" cy="14.5" r="2"/><circle cx="14" cy="14.5" r="2"/><circle cx="20" cy="14.5" r="2"/><circle cx="8" cy="20" r="2"/><circle cx="14" cy="20" r="2"/><circle cx="20" cy="20" r="2"/></g>');
box(1041, 1029, 35, 1, 'background:#e0e3eb');
icon(1058, 1056, '<circle cx="14" cy="14" r="12.5"/><path d="M10.5 11a3.5 3.5 0 1 1 5 3.2c-1 .6-1.5 1.3-1.5 2.8"/><circle cx="14" cy="20.5" r="0.6" fill="#131722"/>');

// bottom bar
icon(997, 1027, '<path d="M10 8h8l4 6-4 6h-8l-4-6z"/><circle cx="14" cy="14" r="2"/>');
[['1D',79],['5D',109],['1M',140],['3M',172],['6M',204],['YTD',239],['1Y',272],['5Y',300],['All',328]].forEach(a => text(a[1], 1061, a[0], 'font-size:13.5px'));
box(350, 1049, 1, 24, 'background:#e0e3eb');
icon(371, 1061, '<path d="M7 12V7h15v17h-5M7 10h15M11 4v4M18 4v4M4 19h8M9 16l3 3-3 3"/>');
text(924, 1061, '09:56:26 UTC+8', 'font-size:13.5px');
box(984, 1049, 1, 24, 'background:#e0e3eb');
text(1007, 1061, 'ADJ', 'font-size:13.5px');
</script>
</body>
</html>
